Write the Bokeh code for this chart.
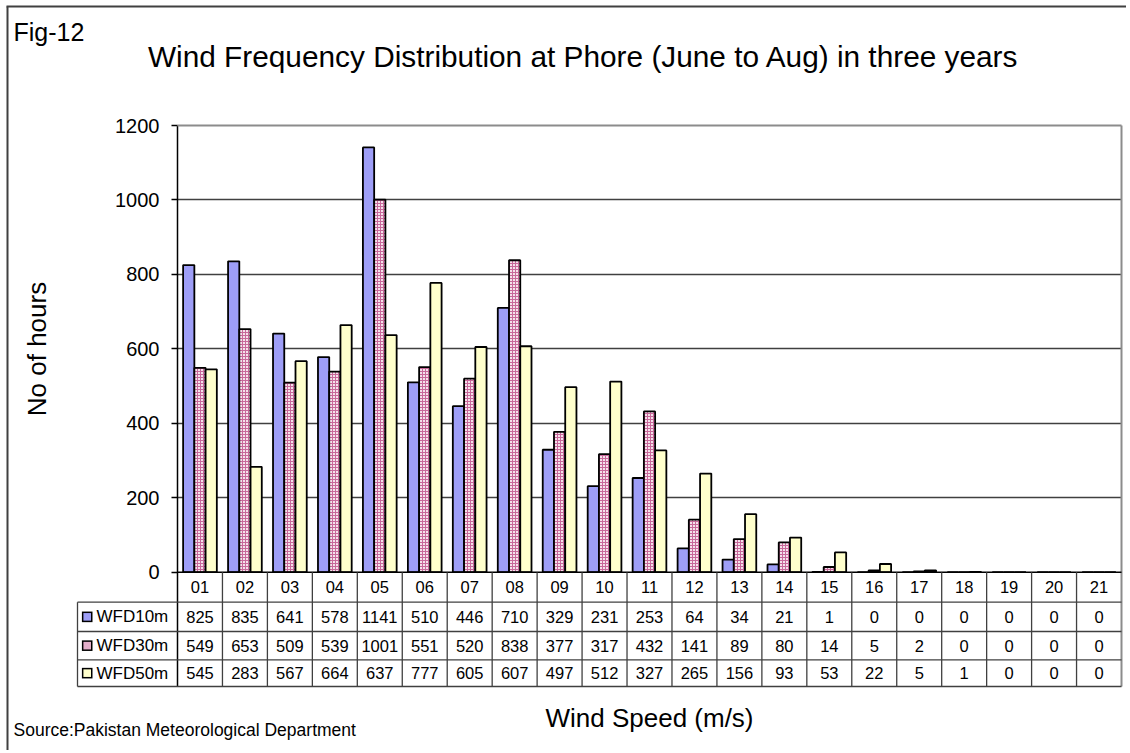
import numpy as np
from bokeh.plotting import figure
from bokeh.models import Range1d, FixedTicker
from bokeh.core.properties import value
from bokeh.embed import file_html
from bokeh.resources import INLINE

# ---------------- data ----------------
categories = ["01", "02", "03", "04", "05", "06", "07", "08", "09", "10", "11",
              "12", "13", "14", "15", "16", "17", "18", "19", "20", "21"]
wfd10 = [825, 835, 641, 578, 1141, 510, 446, 710, 329, 231, 253, 64, 34, 21, 1, 0, 0, 0, 0, 0, 0]
wfd30 = [549, 653, 509, 539, 1001, 551, 520, 838, 377, 317, 432, 141, 89, 80, 14, 5, 2, 0, 0, 0, 0]
wfd50 = [545, 283, 567, 664, 637, 777, 605, 607, 497, 512, 327, 265, 156, 93, 53, 22, 5, 1, 0, 0, 0]
series_names = ["WFD10m", "WFD30m", "WFD50m"]
y_ticks = [0, 200, 400, 600, 800, 1000, 1200]

title_text = "Wind Frequency Distribution at Phore (June to Aug) in three years"
fig_text = "Fig-12"
source_text = "Source:Pakistan Meteorological Department"
xlabel_text = "Wind Speed (m/s)"
ylabel_text = "No of hours"

# ---------------- layout (page pixels) ----------------
W, H = 1126, 750
FL, FR, FT, FB = 177, 1121, 125, 686      # frame edges on page
Y0 = 571.7                                 # page y of value 0
YMAX = 1200
sy = (Y0 - FT) / YMAX
colw = (FR - FL) / len(categories)
y_start = -(FB - Y0) / sy

def X(px):
    return (px - FL) / colw

def Y(py):
    return (Y0 - py) / sy

FONT = value("Liberation Sans")
n = len(categories)
idx = np.arange(n)

p = figure(width=W, height=H, x_range=Range1d(0, n), y_range=Range1d(y_start, YMAX),
           output_backend="svg", toolbar_location=None, x_axis_location=None,
           min_border_left=FL, min_border_right=W - FR,
           min_border_top=FT, min_border_bottom=H - FB)
p.outline_line_color = None
p.xgrid.visible = False
p.background_fill_color = "white"
p.border_fill_color = "white"

# y axis
p.yaxis.ticker = FixedTicker(ticks=y_ticks)
p.yaxis.major_label_text_font = "Liberation Sans"
p.yaxis.major_label_text_font_size = "20px"
p.yaxis.major_label_text_color = "black"
p.yaxis.major_tick_out = 6
p.yaxis.major_tick_in = 0
p.yaxis.minor_tick_out = 0
p.yaxis.minor_tick_in = 0
p.yaxis.major_label_standoff = 12
p.yaxis.axis_line_color = "black"
p.yaxis.axis_line_width = 1.5
p.yaxis.major_tick_line_color = "black"
p.yaxis.major_tick_line_width = 1.3

p.ygrid.ticker = FixedTicker(ticks=y_ticks[1:-1])
p.ygrid.grid_line_color = "#404040"
p.ygrid.grid_line_width = 1.4

# bars
colors = ["#9E9EF7", "#F5E1EB", "#FFFFCC"]
key_colors = ["#9E9EF7", "#E4AECA", "#FFFFCC"]
offsets = [-0.25, 0.0, 0.25]
series = [wfd10, wfd30, wfd50]
for k in range(3):
    kw = dict(fill_color=colors[k], line_color="black", line_width=1.8)
    if k == 1:
        kw.update(hatch_pattern="+", hatch_color="#C8689A", hatch_scale=3, hatch_weight=1)
    p.vbar(x=idx + 0.5 + offsets[k], top=series[k], bottom=0, width=0.25, **kw)

# plot area borders
p.segment(x0=[0], y0=[YMAX], x1=[n], y1=[YMAX], line_color="#8C8C8C", line_width=2, level="overlay")
p.segment(x0=[n], y0=[y_start], x1=[n], y1=[YMAX], line_color="#8C8C8C", line_width=2, level="overlay")
p.segment(x0=[0], y0=[0], x1=[n], y1=[0], line_color="black", line_width=1.5, level="overlay")

# ---------------- data table ----------------
xl = X(77)
row_edges = [Y(601.7), Y(631), Y(659.3), y_start]
row_centers = [(row_edges[i] + row_edges[i + 1]) / 2 for i in range(3)]
header_y = Y(586.5)
TC = "#404040"
p.segment(x0=idx[1:], y0=[0] * (n - 1), x1=idx[1:], y1=[y_start] * (n - 1),
          line_color=TC, line_width=1.3, level="overlay")
p.segment(x0=[xl] * 4, y0=row_edges, x1=[n] * 4, y1=row_edges,
          line_color=TC, line_width=1.3, level="overlay")
p.segment(x0=[xl], y0=[row_edges[0]], x1=[xl], y1=[y_start],
          line_color=TC, line_width=1.3, level="overlay")

p.text(x=idx + 0.5, y=[header_y] * n, text=categories, text_align="center",
       text_baseline="middle", text_font=FONT, text_font_size="16.5px",
       text_color="black", level="overlay")
for k in range(3):
    p.text(x=idx + 0.5, y=[row_centers[k]] * n, text=[str(v) for v in series[k]],
           text_align="center", text_baseline="middle", text_font=FONT,
           text_font_size="16.5px", text_color="black", level="overlay")

# legend keys (square swatches drawn as thick butt-capped strokes)
kx = 86.7
p.segment(x0=[X(kx - 5.3)] * 3, y0=row_centers, x1=[X(kx + 5.3)] * 3, y1=row_centers,
          line_color="black", line_width=10.6, line_cap="butt", level="overlay")
p.segment(x0=[X(kx - 3.8)] * 3, y0=row_centers, x1=[X(kx + 3.8)] * 3, y1=row_centers,
          line_color=key_colors, line_width=7.6, line_cap="butt", level="overlay")
p.text(x=[X(96)] * 3, y=row_centers, text=series_names, text_align="left",
       text_baseline="middle", text_font=FONT, text_font_size="17px",
       text_color="black", level="overlay")

# ---------------- free texts ----------------
p.text(x=[X(583)], y=[Y(56)], text=[title_text], text_align="center",
       text_baseline="alphabetic", text_font=FONT, text_font_size="29.8px",
       text_color="black", level="overlay")
p.text(x=[X(13)], y=[Y(31.5)], text=[fig_text], text_align="left",
       text_baseline="alphabetic", text_font=FONT, text_font_size="25px",
       text_color="black", level="overlay")
p.text(x=[X(36)], y=[Y(348.5)], text=[ylabel_text], angle=np.pi / 2, text_align="center",
       text_baseline="middle", text_font=FONT, text_font_size="26px",
       text_color="black", level="overlay")
p.text(x=[X(649)], y=[Y(717)], text=[xlabel_text], text_align="center",
       text_baseline="alphabetic", text_font=FONT, text_font_size="26px",
       text_color="black", level="overlay")
p.text(x=[X(13)], y=[Y(729)], text=[source_text], text_align="left",
       text_baseline="alphabetic", text_font=FONT, text_font_size="17.5px",
       text_color="black", level="overlay")

# outer border (left + top)
p.segment(x0=[X(7), X(6)], y0=[Y(6), Y(6)], x1=[X(7), X(W)], y1=[Y(H), Y(6)],
          line_color="#404040", line_width=2, level="overlay")

open("out.html", "w").write(file_html(p, INLINE))
